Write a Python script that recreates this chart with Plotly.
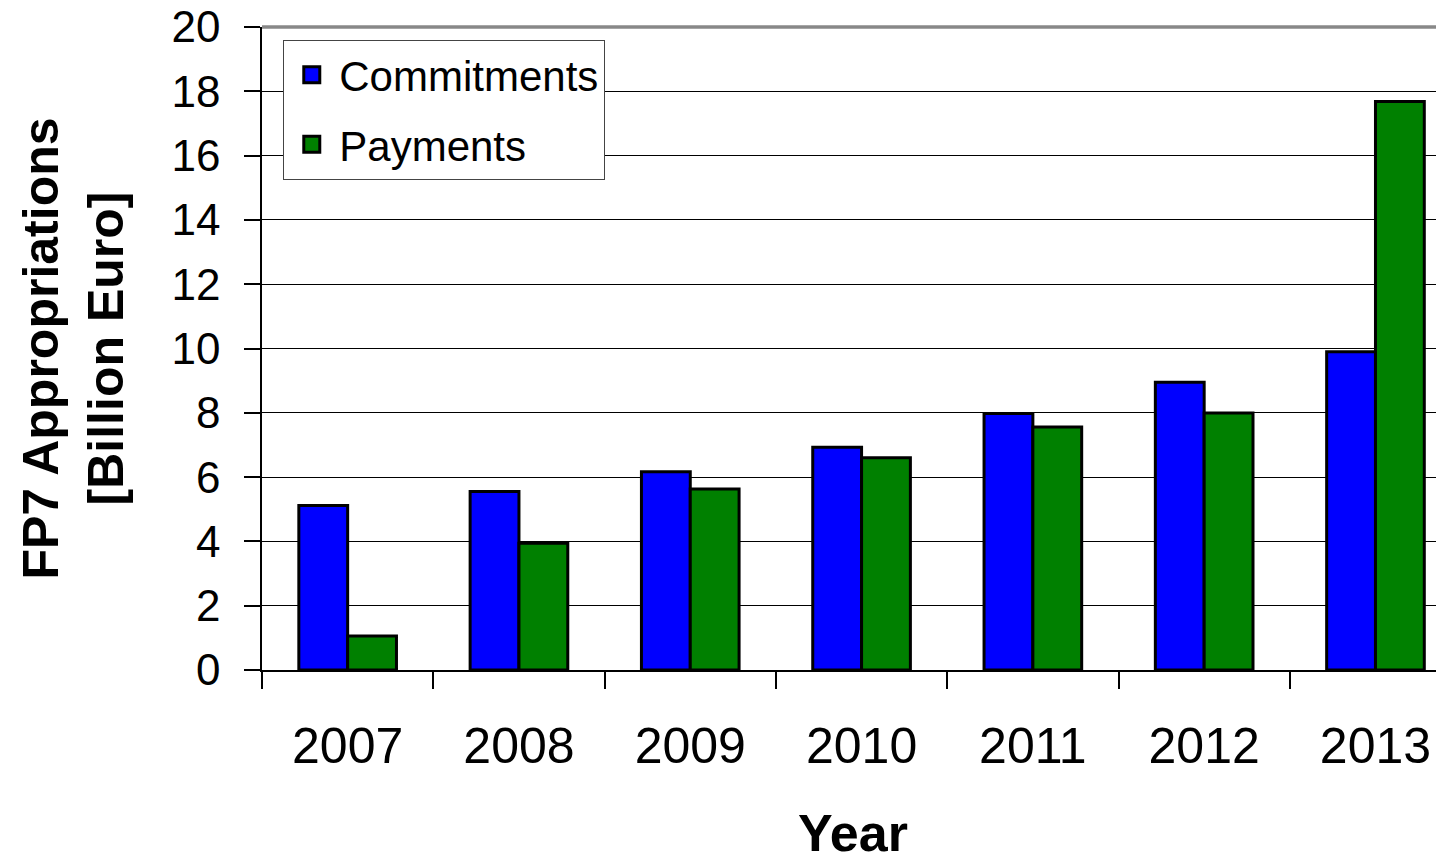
import plotly.graph_objects as go

years = ["2007", "2008", "2009", "2010", "2011", "2012", "2013"]
commitments = [5.12, 5.55, 6.17, 6.93, 7.98, 8.95, 9.9]
payments = [1.06, 3.94, 5.63, 6.6, 7.56, 7.99, 17.68]
y_ticks = [0, 2, 4, 6, 8, 10, 12, 14, 16, 18, 20]
series_names = ["Commitments", "Payments"]
series_colors = ["#0000FF", "#008000"]

FONT = "Liberation Sans, Arial, sans-serif"

fig = go.Figure()
for name, vals, col in zip(series_names, [commitments, payments], series_colors):
    fig.add_trace(go.Bar(
        x=years, y=vals, name=name, showlegend=False,
        marker=dict(color=col, line=dict(color="black", width=3)),
    ))
# legend proxies (larger square symbols like the original)
for name, col in zip(series_names, series_colors):
    fig.add_trace(go.Scatter(
        x=[None], y=[None], name=name, mode="markers", legendgroup=name,
        marker=dict(symbol="square", size=20, color=col, line=dict(color="black", width=3)),
    ))

# grey top border of the plot frame
fig.add_shape(type="line", xref="paper", yref="paper", x0=0, x1=1, y0=1, y1=1,
              line=dict(color="#888888", width=3.5), layer="above")

fig.update_layout(
    width=1444, height=860,
    margin=dict(l=254, r=8, t=19, b=198, autoexpand=False),
    paper_bgcolor="white", plot_bgcolor="white",
    barmode="group", bargap=0.43, bargroupgap=0,
    font=dict(family=FONT, color="black"),
    showlegend=True,
    legend=dict(
        x=0.018, y=0.98, xanchor="left", yanchor="top",
        bgcolor="white", bordercolor="#444", borderwidth=1,
        font=dict(size=42, family=FONT, color="black"),
        tracegroupgap=12, itemsizing="trace", itemwidth=45,
    ),
    xaxis=dict(
        type="category", range=[-0.5, 6.4], automargin=False,
        tickson="boundaries", ticks="outside", ticklen=17, tickwidth=1.5,
        tickcolor="black", showline=True, linecolor="black", linewidth=1.5,
        tickfont=dict(size=50, family=FONT), ticklabelstandoff=31,
        title=dict(text="Year", font=dict(size=52, family=FONT, weight="bold"), standoff=42),
        showgrid=False,
    ),
    yaxis=dict(
        range=[0, 20], tickvals=y_ticks, ticks="outside", ticklen=16, tickwidth=1.5,
        automargin=False,
        tickcolor="black", showline=True, linecolor="black", linewidth=1.5,
        tickfont=dict(size=44, family=FONT), ticklabelstandoff=15,
        ticklabeloverflow="allow",
        showgrid=True, gridcolor="black", gridwidth=1.2,
        zeroline=False,
        title=dict(text="FP7 Appropriations<br>[Billion Euro]",
                   font=dict(size=50, family=FONT, weight="bold"), standoff=32),
    ),
)

fig.write_html("out.html")
